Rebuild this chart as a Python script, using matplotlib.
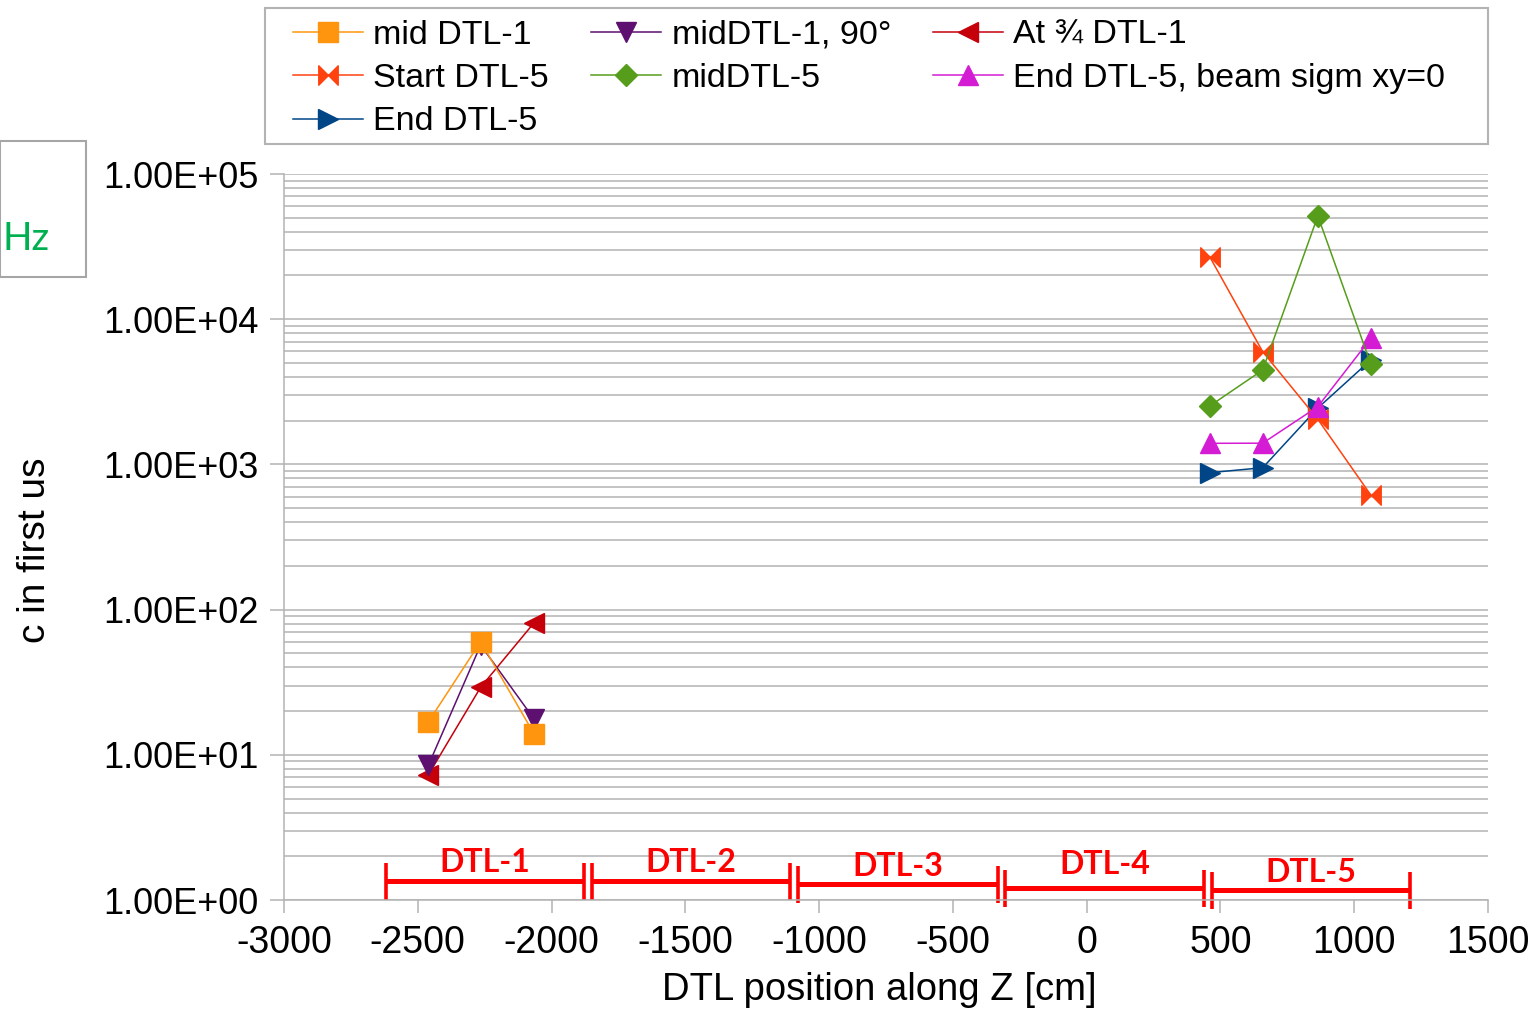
import matplotlib
matplotlib.use("Agg")
import matplotlib.pyplot as plt
from matplotlib.patches import Rectangle
from matplotlib.path import Path
import matplotlib.transforms as mtransforms

plt.rcParams['font.family'] = ['Liberation Sans', 'DejaVu Sans']

# ---------------- data ----------------
x_dtl1 = [-2460, -2265, -2065]
x_dtl5 = [460, 658, 864, 1062]

mid_dtl1 = [16.9, 60.1, 13.9]
mid_dtl1_90 = [8.5, 57.0, 17.6]
at34_dtl1 = [7.3, 29.2, 81.3]

start_dtl5 = [26900, 5970, 2045, 615]
mid_dtl5 = [2525, 4470, 51400, 4915]
end_dtl5_sig0 = [1397, 1400, 2500, 7385]
end_dtl5 = [877, 949, 2445, 5240]

dtl_names = ['DTL-1', 'DTL-2', 'DTL-3', 'DTL-4', 'DTL-5']
dtl_start = [-2620, -1850, -1080, -305, 468]
dtl_end = [-1880, -1110, -330, 440, 1208]

xticks = [-3000, -2500, -2000, -1500, -1000, -500, 0, 500, 1000, 1500]
yticks = [1, 10, 100, 1000, 10000, 100000]
ytick_labels = ['1.00E+00', '1.00E+01', '1.00E+02', '1.00E+03', '1.00E+04', '1.00E+05']

# ---------------- figure ----------------
W, H = 1538, 1015
fig = plt.figure(figsize=(W / 100, H / 100), dpi=100)
ax = fig.add_axes([284 / W, 1 - 900 / H, (1488 - 284) / W, (900 - 174) / H])

bowtie = Path([(-1, -1), (-1, 1), (0, 0), (1, 1), (1, -1), (0, 0), (-1, -1)],
              [Path.MOVETO, Path.LINETO, Path.LINETO, Path.LINETO, Path.LINETO, Path.LINETO, Path.CLOSEPOLY])

lw = 1.1
ms = 14
h1, = ax.plot(x_dtl1, mid_dtl1, color='#FF950E', marker='s', ms=ms, lw=lw, label='mid DTL-1', zorder=2.3)
h2, = ax.plot(x_dtl1, mid_dtl1_90, color='#5E1070', marker='v', ms=ms, lw=lw, label='midDTL-1, 90°', zorder=2.2)
h3, = ax.plot(x_dtl1, at34_dtl1, color='#C5000B', marker='<', ms=ms, lw=lw, label='At ¾ DTL-1', zorder=2.1)
h4, = ax.plot(x_dtl5, start_dtl5, color='#FF420E', marker=bowtie, ms=ms, lw=lw, label='Start DTL-5', zorder=2.1)
h5, = ax.plot(x_dtl5, mid_dtl5, color='#579D1C', marker='D', ms=ms * 0.8, lw=lw, label='midDTL-5', zorder=2.3)
h6, = ax.plot(x_dtl5, end_dtl5_sig0, color='#D41CD4', marker='^', ms=ms, lw=lw, label='End DTL-5, beam sigm xy=0', zorder=2.2)
h7, = ax.plot(x_dtl5, end_dtl5, color='#004586', marker='>', ms=ms, lw=lw, label='End DTL-5', zorder=2.0)

ax.set_yscale('log')
ax.set_xlim(-3000, 1500)
ax.set_ylim(1, 100000)
ax.set_xticks(xticks)
ax.set_xticklabels([str(v) for v in xticks])
ax.set_yticks(yticks)
ax.set_yticklabels(ytick_labels)
ax.yaxis.set_minor_locator(matplotlib.ticker.LogLocator(base=10, subs=range(2, 10), numticks=20))
ax.yaxis.set_minor_formatter(matplotlib.ticker.NullFormatter())
ax.grid(True, which='both', axis='y', color='#b3b3b3', lw=1.1)
ax.set_axisbelow(True)
for s in ['top', 'right']:
    ax.spines[s].set_visible(False)
for s in ['left', 'bottom']:
    ax.spines[s].set_color('#b3b3b3')
    ax.spines[s].set_linewidth(1.1)
ax.tick_params(axis='y', which='major', length=10, color='#b3b3b3', width=1.1, labelsize=26, pad=8)
ax.tick_params(axis='y', which='minor', length=0)
ax.tick_params(axis='x', which='major', length=9, color='#b3b3b3', width=1.1, labelsize=27, pad=9)

# DTL section bars (axes-fraction y)
trans = mtransforms.blended_transform_factory(ax.transData, ax.transAxes)
bar_ypx = [881, 881, 884, 888, 890]
label_ypx = [862, 862, 867, 865, 872]
cap = 18.5
for name, xs, xe, yp, lyp in zip(dtl_names, dtl_start, dtl_end, bar_ypx, label_ypx):
    yf = (900 - yp) / 726
    c0 = (900 - (yp - cap)) / 726
    c1 = (900 - (yp + cap)) / 726
    ax.plot([xs, xe], [yf, yf], color='#FF0000', lw=3.6, transform=trans, clip_on=False, solid_capstyle='butt')
    ax.plot([xs, xs], [c0, c1], color='#FF0000', lw=2.6, transform=trans, clip_on=False, solid_capstyle='butt')
    ax.plot([xe, xe], [c0, c1], color='#FF0000', lw=2.6, transform=trans, clip_on=False, solid_capstyle='butt')
    ax.text((xs + xe) / 2, (900 - lyp) / 726, name, transform=trans, color='#FF0000',
            fontsize=23, fontweight='bold', family='Lato', ha='center', va='center')

# axis labels
fig.text(879 / W, 1 - 990 / H, 'DTL position along Z [cm]', fontsize=27.5, ha='center', va='center')
fig.text(35 / W, 1 - 550 / H, 'c in first us', fontsize=28, rotation=90, ha='center', va='center')

# cropped text box on the left
fig.patches.append(Rectangle((0, 1 - 277 / H), 86 / W, 136 / H, transform=fig.transFigure,
                             facecolor='white', edgecolor='#a6a6a6', lw=1.5))
fig.text(3 / W, 1 - 239 / H, 'Hz', color='#00B050', fontsize=28, family='Lato', ha='left', va='center')

# legend
fig.patches.append(Rectangle((265 / W, 1 - 144 / H), (1488 - 265) / W, 136 / H, transform=fig.transFigure,
                             facecolor='white', edgecolor='#b3b3b3', lw=1.5))
handles = [h1, h4, h7, h2, h5, h3, h6]
fig.legend(handles, [h.get_label() for h in handles], loc='upper left',
           bbox_to_anchor=(293 / W, 1 - 20 / H), ncol=3, frameon=False, fontsize=24.5,
           handlelength=2.06, handletextpad=0.3, columnspacing=1.24, labelspacing=0.36,
           borderpad=0, borderaxespad=0)

fig.savefig('out.png', dpi=100)
